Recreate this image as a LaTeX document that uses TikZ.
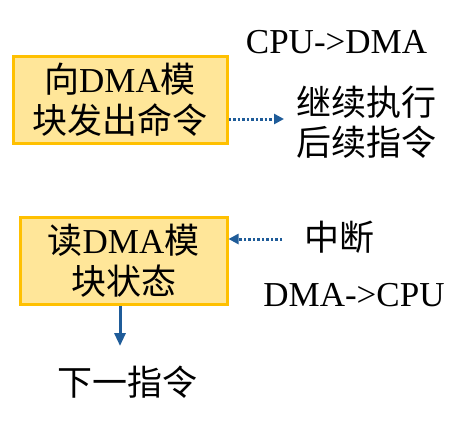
\documentclass[tikz,border=0pt]{standalone}
\usepackage{fontspec}
\setmainfont{Liberation Serif}
\newfontfamily\cjk{Noto Sans CJK SC}
\usetikzlibrary{arrows.meta}
\definecolor{boxfill}{HTML}{FFE699}
\definecolor{boxline}{HTML}{FFC000}
\definecolor{arrblue}{HTML}{1F5C99}
\tikzset{
  stepbox/.style={draw=boxline, fill=boxfill, line width=3pt, align=center, inner sep=0pt, font=\fontsize{35}{41.5}\selectfont},
  lbl/.style={inner sep=0pt, font=\fontsize{35}{40}\selectfont},
  dotarrow/.style={draw=arrblue, line width=3pt, dash pattern=on 2.5pt off 2pt, -{Triangle[length=10pt,width=10pt]}},
  solidarrow/.style={draw=arrblue, line width=3pt, -{Triangle[length=13pt,width=11pt]}}
}
\begin{document}
\begin{tikzpicture}[x=1pt,y=-1pt]
\useasboundingbox (0,0) rectangle (465,421);
\node[stepbox, minimum width=214pt, minimum height=87pt] (b1) at (120,99.5) {{\cjk 向}DMA{\cjk 模}\\{\cjk 块发出命令}};
\node[stepbox, minimum width=207pt, minimum height=87pt] (b2) at (123.5,260.5) {{\cjk 读}DMA{\cjk 模}\\{\cjk 块状态}};
\node[lbl] (cd) at (336.5,42) {CPU->DMA};
\node[lbl, anchor=west, align=left] (cont) at (296,122) {{\cjk 继续执行}\\{\cjk 后续指令}};
\node[lbl] (intr) at (339,237) {\cjk 中断};
\node[lbl] (dc) at (354,295) {DMA->CPU};
\node[lbl] (next) at (127,382) {\cjk 下一指令};
\coordinate (a1e) at (284,119);
\coordinate (a2s) at (282,239);
\coordinate (a3e) at (120,346);
\draw[dotarrow] ([yshift=-19.5pt]b1.east) -- (a1e);
\draw[dotarrow] (a2s) -- ([yshift=21.5pt]b2.east);
\draw[solidarrow] ([xshift=-3.5pt]b2.south) -- (a3e);
\end{tikzpicture}
\end{document}
